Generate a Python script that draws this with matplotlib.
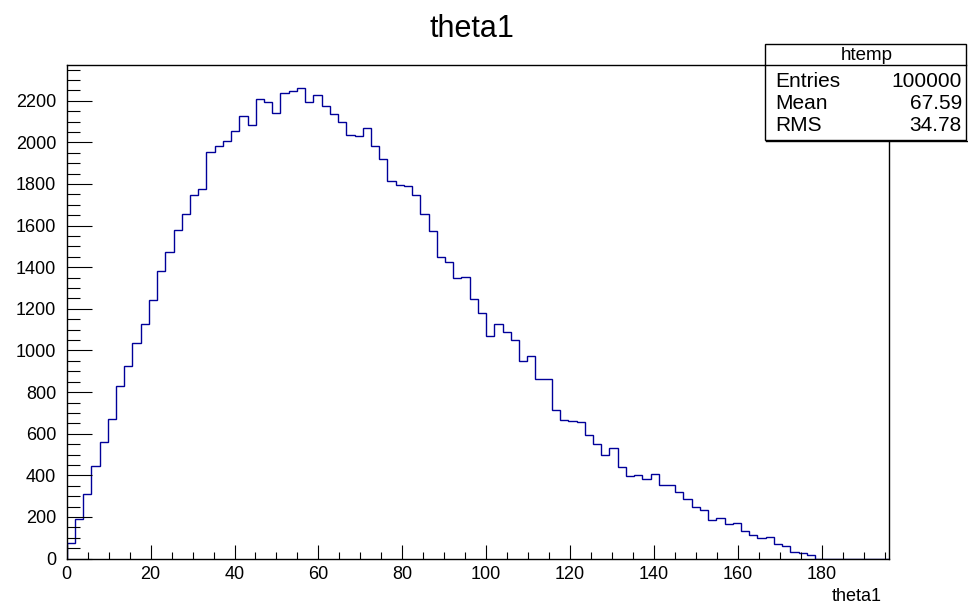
import matplotlib
matplotlib.use("Agg")
import matplotlib.pyplot as plt
from matplotlib.patches import Rectangle
from matplotlib.lines import Line2D
from matplotlib.ticker import MultipleLocator
import numpy as np

plt.rcParams['font.family'] = ['Liberation Sans', 'DejaVu Sans']

# histogram htemp: 100 bins over [0, 196]
x_min = 0.0
x_max = 196.0
n_bins = 100
counts = [75, 190, 312, 447, 561, 669, 828, 924, 1036, 1128,
          1243, 1380, 1475, 1579, 1658, 1747, 1776, 1954, 1982, 2006,
          2056, 2128, 2083, 2209, 2192, 2143, 2237, 2248, 2261, 2192,
          2229, 2177, 2136, 2097, 2036, 2030, 2067, 1983, 1922, 1812,
          1797, 1791, 1747, 1656, 1574, 1451, 1427, 1346, 1352, 1248,
          1180, 1070, 1128, 1088, 1049, 948, 972, 861, 861, 714,
          667, 662, 654, 592, 553, 499, 531, 442, 398, 402,
          382, 407, 356, 353, 322, 285, 250, 234, 186, 194,
          165, 170, 134, 112, 101, 103, 70, 62, 33, 27,
          19, 0, 0, 0, 0, 0, 0, 0, 0, 0]

stats_names = ["Entries", "Mean", "RMS"]
stats_values = ["100000", "67.59", "34.78"]

W, H = 968, 609
fig = plt.figure(figsize=(W / 100, H / 100), dpi=100)
ax = fig.add_axes([66.7 / W, 1 - 558.6 / H, (889 - 66.7) / W, (558.6 - 64.5) / H])

edges = np.linspace(x_min, x_max, n_bins + 1)
ax.stairs(counts, edges, color='#000099', lw=1.0)

ax.set_xlim(x_min, x_max)
ax.set_ylim(0, max(counts) * 1.05)

ax.xaxis.set_major_locator(MultipleLocator(20))
ax.xaxis.set_minor_locator(MultipleLocator(5))
ax.yaxis.set_major_locator(MultipleLocator(200))
ax.yaxis.set_minor_locator(MultipleLocator(50))
ax.tick_params(axis='both', which='both', direction='in', width=0.8,
               top=False, right=False, labelsize=13)
ax.tick_params(axis='x', which='major', length=10, pad=5.5)
ax.tick_params(axis='x', which='minor', length=5)
ax.tick_params(axis='y', which='major', length=18, pad=7.5)
ax.tick_params(axis='y', which='minor', length=9)
for s in ax.spines.values():
    s.set_linewidth(1.0)

fig.text(472 / W, 1 - 37 / H, "theta1", fontsize=22, ha='center', va='baseline')
fig.text(882 / W, 1 - 601 / H, "theta1", fontsize=13, ha='right', va='baseline')

# stats box
bx0, bx1, by0, by1 = 765, 966, 44, 140
fig.add_artist(Rectangle((bx0 / W, 1 - by1 / H), (bx1 - bx0) / W, (by1 - by0) / H,
                         transform=fig.transFigure, facecolor='white',
                         edgecolor='black', lw=1.0, zorder=5))
fig.add_artist(Line2D([bx0 / W, bx1 / W], [1 - 65 / H, 1 - 65 / H],
                      transform=fig.transFigure, color='black', lw=1.0, zorder=6))
fig.add_artist(Line2D([(bx0 + 1) / W, (bx1 + 1) / W], [1 - (by1 + 1) / H, 1 - (by1 + 1) / H],
                      transform=fig.transFigure, color='black', lw=1.0, zorder=6))
fig.text(866.5 / W, 1 - 55 / H, "htemp", fontsize=13.5, ha='center', va='center', zorder=7)
for i, (name, val) in enumerate(zip(stats_names, stats_values)):
    y = 1 - (81.7 + 21.7 * i) / H
    fig.text(775 / W, y, name, fontsize=15, ha='left', va='center', zorder=7)
    fig.text(962 / W, y, val, fontsize=15, ha='right', va='center', zorder=7)

fig.savefig("out.png", dpi=100)
